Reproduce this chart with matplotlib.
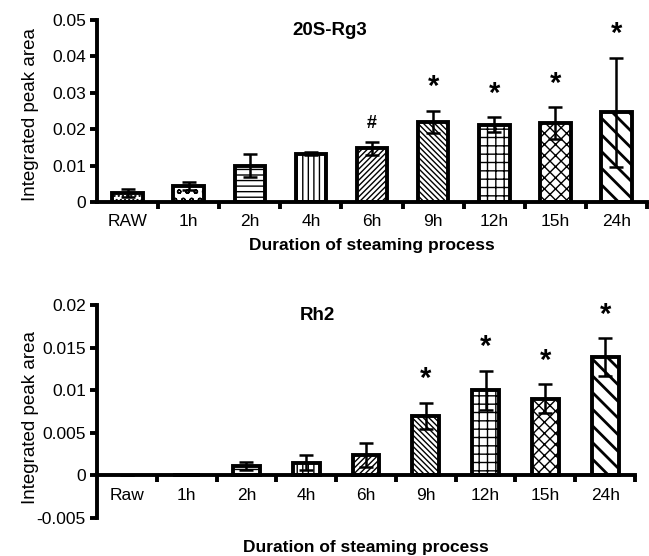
import matplotlib
matplotlib.use("Agg")
import matplotlib.pyplot as plt
import numpy as np

plt.rcParams['font.family'] = ['Liberation Sans', 'DejaVu Sans']
plt.rcParams['hatch.linewidth'] = 1.0

# --- data ---
labels_top = ["RAW", "1h", "2h", "4h", "6h", "9h", "12h", "15h", "24h"]
rg3_mean = [0.0025, 0.0044, 0.0100, 0.0133, 0.0148, 0.0220, 0.0212, 0.0217, 0.0246]
rg3_err = [0.0012, 0.0012, 0.0031, 0.0004, 0.0018, 0.0030, 0.0021, 0.0043, 0.0150]
rg3_marks = ["", "", "", "", "#", "*", "*", "*", "*"]

labels_bot = ["Raw", "1h", "2h", "4h", "6h", "9h", "12h", "15h", "24h"]
rh2_mean = [0.0, 0.0, 0.0011, 0.0015, 0.0024, 0.0070, 0.0100, 0.0090, 0.0139]
rh2_err = [0.0, 0.0, 0.0005, 0.0009, 0.0014, 0.0015, 0.0023, 0.0017, 0.0022]
rh2_marks = ["", "", "", "", "", "*", "*", "*", "*"]

hatches = ["....", "oo", "---", "|||", "//////", "\\\\\\\\\\\\", "++", "xxx", "\\\\"]
hatch_lw = [1.0, 1.0, 1.0, 1.0, 1.0, 1.0, 1.0, 1.0, 2.0]


def draw_panel(ax, labels, means, errs, marks, yticks, ylim, width, title, title_x):
    x = np.arange(len(labels))
    for i in range(len(labels)):
        if means[i] == 0 and i == 0:
            continue
        bars = ax.bar(x[i], means[i], width=width, color='white', edgecolor='black',
                      linewidth=2.8, hatch=hatches[i], zorder=2)
        for b in bars:
            if hasattr(b, 'set_hatch_linewidth'):
                b.set_hatch_linewidth(hatch_lw[i])
    ax.errorbar(x, means, yerr=errs, fmt='none', ecolor='black', elinewidth=1.8,
                capsize=5, capthick=1.8, zorder=3)
    for i, m in enumerate(marks):
        if m:
            fs = 21 if m == "*" else 13
            ax.annotate(m, (x[i], means[i] + errs[i]), xytext=(0, 7),
                        textcoords='offset points', ha='center', va='bottom',
                        fontsize=fs, fontweight='bold')

    ax.set_xlim(-0.5, len(labels) - 0.5)
    ax.set_ylim(*ylim)
    ax.set_yticks(yticks)
    ax.set_yticklabels([("%g" % t) for t in yticks])
    ax.set_xticks(x)
    ax.set_xticklabels(labels)
    ax.set_xticks(np.arange(0.5, len(labels), 1.0), minor=True)
    ax.tick_params(axis='x', which='major', length=0, pad=9, labelsize=12.5)
    ax.tick_params(axis='x', which='minor', length=5, width=2.8, direction='out')
    ax.tick_params(axis='y', length=5, width=2.8, labelsize=12.5, pad=3)

    for s in ['top', 'right']:
        ax.spines[s].set_visible(False)
    ax.spines['left'].set_linewidth(2.8)
    ax.spines['bottom'].set_linewidth(2.8)
    ax.spines['bottom'].set_position(('data', 0))

    ax.set_ylabel("Integrated peak area", fontsize=13.5)
    ax.text(title_x, 0.99, title, transform=ax.transAxes, ha='center', va='top',
            fontsize=13.5, fontweight='bold')


fig = plt.figure(figsize=(6.49, 5.56), dpi=100)

ax1 = fig.add_axes([0.1495, 0.6367, 0.8475, 0.3273])
draw_panel(ax1, labels_top, rg3_mean, rg3_err, rg3_marks,
           [0, 0.01, 0.02, 0.03, 0.04, 0.05], (0, 0.05), 0.5, "20S-Rg3", 0.424)
ax1.set_xlabel("Duration of steaming process", fontsize=12.5, fontweight='bold')
ax1.xaxis.set_label_coords(0.5, -0.2)
ax1.yaxis.set_label_coords(-0.105, 0.48)

ax2 = fig.add_axes([0.1495, 0.0683, 0.829, 0.3831])
draw_panel(ax2, labels_bot, rh2_mean, rh2_err, rh2_marks,
           [-0.005, 0, 0.005, 0.01, 0.015, 0.02], (-0.005, 0.02), 0.45, "Rh2", 0.41)
ax2.set_xlabel("Duration of steaming process", fontsize=12.5, fontweight='bold')
ax2.xaxis.set_label_coords(0.5, -0.105)
ax2.yaxis.set_label_coords(-0.108, 0.47)

fig.savefig("out.png", dpi=100)
